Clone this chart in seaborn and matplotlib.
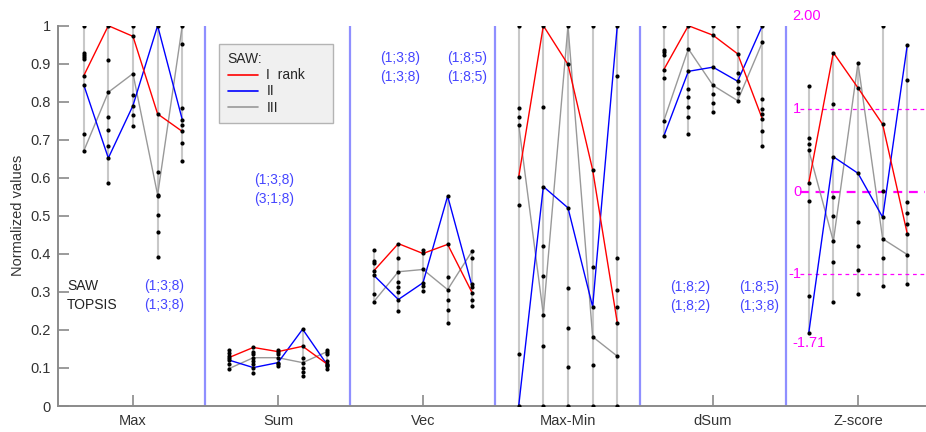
import numpy as np
import pandas as pd
import matplotlib
matplotlib.use("Agg")
import matplotlib.pyplot as plt
import seaborn as sns
from matplotlib.lines import Line2D

# ---------------- data ----------------
methods = ["Max", "Sum", "Vec", "Max-Min", "dSum", "Z-score"]
rank_labels = ["I  rank", "II", "III"]

# Max
max_red = [0.868, 1.000, 0.972, 0.768, 0.722]
max_blue = [0.845, 0.652, 0.790, 1.000, 0.753]
max_gray = [0.670, 0.825, 0.874, 0.555, 1.000]
max_other = [[1.000, 0.928, 0.923, 0.917, 0.912, 0.716],
             [0.911, 0.759, 0.727, 0.683, 0.586],
             [1.000, 0.818, 0.764, 0.736],
             [0.615, 0.551, 0.502, 0.457, 0.393],
             [0.952, 0.783, 0.738, 0.691, 0.645]]

# Sum
sum_red = [0.127, 0.154, 0.143, 0.157, 0.110]
sum_blue = [0.121, 0.101, 0.114, 0.202, 0.108]
sum_gray = [0.098, 0.127, 0.127, 0.114, 0.143]
sum_other = [[0.147, 0.140, 0.132, 0.110],
             [0.143, 0.136, 0.119, 0.110, 0.088],
             [0.147, 0.138, 0.110, 0.105],
             [0.127, 0.101, 0.090, 0.080],
             [0.147, 0.138, 0.118, 0.104, 0.096]]

# Vec
vec_red = [0.355, 0.427, 0.401, 0.425, 0.297]
vec_blue = [0.344, 0.280, 0.324, 0.552, 0.313]
vec_gray = [0.274, 0.353, 0.359, 0.306, 0.408]
vec_other = [[0.409, 0.381, 0.375, 0.294],
             [0.390, 0.326, 0.313, 0.300, 0.249],
             [0.411, 0.315, 0.303],
             [0.339, 0.278, 0.252, 0.219],
             [0.388, 0.320, 0.280, 0.262]]

# Max-Min
mm_red = [0.602, 1.000, 0.898, 0.621, 0.219]
mm_blue = [0.000, 0.577, 0.521, 0.261, 1.000]
mm_gray = [0.740, 0.240, 1.000, 0.182, 0.131]
mm_other = [[1.000, 0.783, 0.761, 0.528, 0.136],
            [0.787, 0.420, 0.341, 0.157, 0.000],
            [0.311, 0.206, 0.103, 0.000],
            [1.000, 0.366, 0.108, 0.000],
            [0.869, 0.390, 0.304, 0.261, 0.000]]

# dSum
ds_red = [0.884, 1.000, 0.975, 0.926, 0.755]
ds_blue = [0.709, 0.880, 0.891, 0.854, 1.000]
ds_gray = [0.749, 0.939, 0.843, 0.803, 0.956]
ds_other = [[1.000, 0.935, 0.930, 0.924, 0.862],
            [0.834, 0.812, 0.787, 0.759, 0.716],
            [1.000, 0.821, 0.796, 0.772],
            [1.000, 0.875, 0.836, 0.822],
            [0.807, 0.780, 0.768, 0.724, 0.683]]

# Z-score (in z units)
z_red = [0.10, 1.675, 1.25, 0.81, -0.51]
z_blue = [-1.71, 0.42, 0.22, -0.31, 1.77]
z_gray = [0.50, -0.60, 1.55, -0.57, -0.76]
z_other = [[1.27, 0.64, 0.57, -0.11, -1.26],
           [1.05, -0.065, -0.30, -0.85, -1.33],
           [-0.37, -0.66, -0.94, -1.23],
           [2.00, 0.01, -0.80, -1.14],
           [1.34, -0.13, -0.26, -0.39, -1.11]]
z_ticks = [1, 0, -1]
z_max_label, z_min_label = "2.00", "-1.71"

# rank annotations
saw_labels = ["(1;3;8)", "(1;3;8)", "(1;3;8)", "(1;8;5)", "(1;8;2)", "(1;8;5)"]
topsis_labels = ["(1;3;8)", "(3;1;8)", "(1;3;8)", "(1;8;5)", "(1;8;2)", "(1;3;8)"]

# ------------- scales -------------
Z_LO, Z_HI = -2.586, 2.0


def z_to_norm(z):
    return (np.asarray(z, dtype=float) - Z_LO) / (Z_HI - Z_LO)


offsets = np.array([-0.34, -0.17, 0.0, 0.17, 0.34])

groups = [
    (max_red, max_blue, max_gray, max_other),
    (sum_red, sum_blue, sum_gray, sum_other),
    (vec_red, vec_blue, vec_gray, vec_other),
    (mm_red, mm_blue, mm_gray, mm_other),
    (ds_red, ds_blue, ds_gray, ds_other),
    ([z_to_norm(v) for v in z_red], [z_to_norm(v) for v in z_blue],
     [z_to_norm(v) for v in z_gray], [list(z_to_norm(c)) for c in z_other]),
]

line_rows, dot_rows = [], []
for g, (r, b, gr, oth) in enumerate(groups):
    for k in range(5):
        x = g + offsets[k]
        for name, arr in zip(rank_labels, (r, b, gr)):
            line_rows.append(dict(x=x, y=float(arr[k]), rank=name, grp=g))
            dot_rows.append(dict(x=x, y=float(arr[k]), grp=g, col=k))
        for v in oth[k]:
            dot_rows.append(dict(x=x, y=float(v), grp=g, col=k))
lines = pd.DataFrame(line_rows)
dots = pd.DataFrame(dot_rows)

# ------------- plot -------------
sns.set_theme(style="white")
plt.rcParams["font.family"] = ["Liberation Sans", "DejaVu Sans"]

fig = plt.figure(figsize=(9.26, 4.32), dpi=100)
ax = fig.add_axes([58 / 926, 26 / 432, 867 / 926, 380.3 / 432])

# column range lines
span = dots.groupby(["grp", "col"]).agg(x=("x", "first"), lo=("y", "min"), hi=("y", "max")).reset_index()
ax.vlines(span["x"], span["lo"], span["hi"], color="#c8c8c8", lw=1.5, zorder=1)

# separators
for g in range(len(methods) - 1):
    ax.plot([g + 0.5, g + 0.5], [0, 1], color="#7c7cff", lw=1.6, alpha=0.85, zorder=1)

palette = {"I  rank": "#ff0000", "II": "#0000ff", "III": "#999999"}
for name in ["III", "II", "I  rank"]:
    sub = lines[lines["rank"] == name]
    sns.lineplot(data=sub, x="x", y="y", units="grp", estimator=None, sort=False,
                 color=palette[name], lw=1.0, ax=ax, legend=False, zorder=2)

sns.scatterplot(data=dots, x="x", y="y", color="black", s=9, linewidth=0, ax=ax, zorder=3)

# Z-score guide lines & labels
mag = "#ff00ff"
zg = 5
for zt in z_ticks:
    yv = z_to_norm(zt)
    ax.plot([zg - 0.40, 5.462], [yv, yv], color=mag, lw=1.6 if zt == 0 else 0.9,
            ls=(0, (4, 3)) if zt == 0 else (0, (3, 3)), zorder=1.5)
    ax.text(zg - 0.39, yv, f"{zt}", color=mag, fontsize=10.5, ha="right", va="center")
ax.text(zg - 0.455, z_to_norm(2.12), z_max_label, color=mag, fontsize=10.5, ha="left", va="center", clip_on=False)
ax.text(zg - 0.45, z_to_norm(-1.83), z_min_label, color=mag, fontsize=10.5, ha="left", va="center")

# annotations
blue_txt = "#4646ff"
ax.text(-0.455, 0.3155, "SAW", fontsize=10, color="#222222", ha="left", va="center")
ax.text(-0.455, 0.2656, "TOPSIS", fontsize=10, color="#222222", ha="left", va="center")
ann_pos = [(0.214, 0.3155, 0.2656), (0.97, 0.594, 0.544), (1.84, 0.915, 0.865),
           (2.307, 0.915, 0.865), (3.84, 0.313, 0.263), (4.317, 0.313, 0.263)]
for i, (xp, y1, y2) in enumerate(ann_pos):
    ax.text(xp, y1, saw_labels[i], fontsize=10, color=blue_txt, ha="center", va="center")
    ax.text(xp, y2, topsis_labels[i], fontsize=10, color=blue_txt, ha="center", va="center")

# axes styling
ax.set_xlim(-0.517, 5.462)
ax.set_ylim(0, 1)
ax.set_xticks(range(len(methods)))
ax.set_xticklabels(methods)
yt = np.round(np.arange(0, 1.01, 0.1), 1)
ax.set_yticks(yt)
ax.set_yticklabels(["0" if v == 0 else ("1" if v == 1 else f"{v:.1f}") for v in yt])
ax.set_xlabel("")
ax.set_ylabel("Normalized values", fontsize=10.5, color="#333333", labelpad=4)
for s in ["top", "right"]:
    ax.spines[s].set_visible(False)
for s in ["left", "bottom"]:
    ax.spines[s].set_color("#8a8a8a")
    ax.spines[s].set_linewidth(1.4)
ax.tick_params(axis="both", which="major", direction="in", length=8, width=1.2,
               color="#8a8a8a", labelcolor="#333333", labelsize=10.5,
               left=True, bottom=True)
ax.tick_params(axis="x", pad=6)
ax.tick_params(axis="y", pad=5)

handles = [Line2D([], [], color=palette[n], lw=1.2) for n in rank_labels]
leg = ax.legend(handles, [l + "     " if i == 0 else l for i, l in enumerate(rank_labels)],
                title="SAW:", loc="upper left",
                bbox_to_anchor=(0.186, 0.952), frameon=True, fancybox=False,
                facecolor="#f0f0f0", edgecolor="#b4b4b4", fontsize=10,
                title_fontsize=10, handlelength=2.2, handletextpad=0.6,
                labelspacing=0.15, borderpad=0.6, borderaxespad=0)
leg._legend_box.align = "left"
leg.get_frame().set_linewidth(1.0)
leg.get_frame().set_alpha(1)

fig.savefig("out.png", dpi=100, facecolor="white")
